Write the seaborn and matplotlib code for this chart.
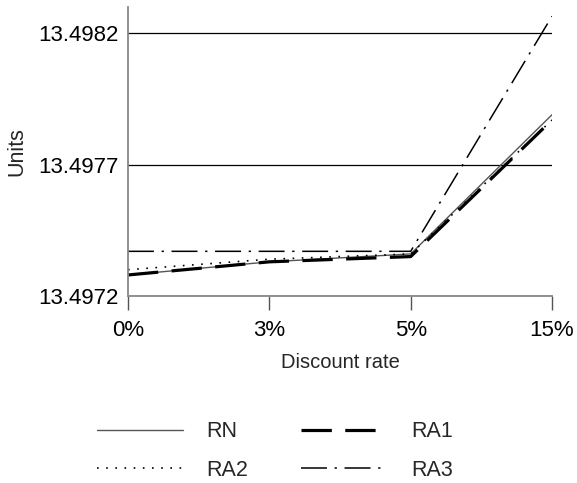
import matplotlib
matplotlib.use("Agg")
import matplotlib.pyplot as plt
import seaborn as sns
import pandas as pd
import numpy as np

# values
rates = ['0%', '3%', '5%', '15%']
rn = [13.49728, 13.49733, 13.49736, 13.49789]
ra1 = [13.49728, 13.49733, 13.49735, 13.49787]
ra2 = [13.49730, 13.49734, 13.49736, 13.49787]
ra3 = [13.49737, 13.49737, 13.49737, 13.498265]

yticks = [13.4972, 13.4977, 13.4982]

series = {'RN': rn, 'RA1': ra1, 'RA2': ra2, 'RA3': ra3}
styles = {
    'RN': dict(color='#555555', linewidth=1.0, linestyle='-'),
    'RA1': dict(color='black', linewidth=2.3, linestyle=(0, (9.5, 4.2))),
    'RA2': dict(color='black', linewidth=1.2, linestyle=(0, (1.0, 4.5))),
    'RA3': dict(color='black', linewidth=1.1, linestyle=(0, (17, 5, 1.5, 5))),
}

sns.set_style('white')
plt.rcParams['font.family'] = ['Liberation Sans', 'DejaVu Sans']

fig = plt.figure(figsize=(5.77, 4.83), dpi=100)
ax = fig.add_axes([0.2218, 0.3872, 0.7349, 0.5983])

xpos = np.arange(len(rates))
handles = {}
for name, vals in series.items():
    sns.lineplot(x=xpos, y=vals, ax=ax, sort=False, label=name, **styles[name])
    handles[name] = ax.get_lines()[-1]

ax.set_xlim(0, 3)
ax.set_ylim(13.4972, 13.49830)
ax.set_xticks(xpos)
ax.set_xticklabels(rates)
ax.set_yticks(yticks)
ax.set_yticklabels([f'{v:.4f}' for v in yticks])

ax.yaxis.grid(True, color='black', linewidth=0.9)
ax.xaxis.grid(False)
ax.set_axisbelow(True)
sns.despine(ax=ax)
for s in ['left', 'bottom']:
    ax.spines[s].set_color('#888888')
    ax.spines[s].set_linewidth(1.3)

ax.tick_params(axis='x', bottom=True, direction='out', length=10, width=1,
               color='#555555', pad=7, labelsize=16, labelcolor='black')
ax.tick_params(axis='y', left=False, length=0, pad=6.5, labelsize=16, labelcolor='black')

ax.set_xlabel('Discount rate', fontsize=14.5, labelpad=9)
ax.set_ylabel('Units', fontsize=15.5, labelpad=8)

ax.get_legend().remove()
order = ['RN', 'RA2', 'RA1', 'RA3']
fig.legend([handles[k] for k in order], order, loc='center',
           bbox_to_anchor=(0.476, 0.0663), ncol=2, frameon=False,
           fontsize=15.5, handlelength=4.0, handletextpad=1.1,
           columnspacing=2.45, labelspacing=0.82)

fig.savefig('out.png', dpi=100)
